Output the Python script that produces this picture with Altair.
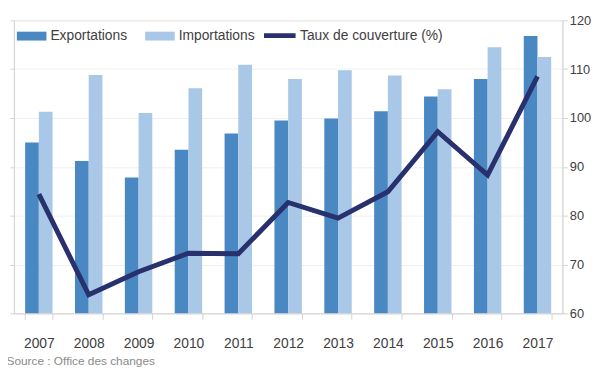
import altair as alt
import pandas as pd

annees = ["2007", "2008", "2009", "2010", "2011", "2012", "2013", "2014", "2015", "2016", "2017"]
exportations = [35.0, 31.2, 27.8, 33.5, 36.8, 39.5, 39.9, 41.4, 44.4, 48.0, 56.8]
importations = [41.3, 48.8, 41.0, 46.1, 50.9, 48.0, 49.8, 48.7, 45.9, 54.5, 52.5]
taux_couverture = [84.4, 63.8, 68.5, 72.3, 72.2, 82.7, 79.5, 84.9, 97.2, 88.3, 108.5]

series_barres = ["Exportations", "Importations"]
couleurs_barres = ["#4a88c4", "#a9c8e7"]
serie_ligne = "Taux de couverture (%)"
couleur_ligne = "#28306d"
left_ticks = [0, 10, 20, 30, 40, 50, 60]
right_ticks = [60, 70, 80, 90, 100, 110, 120]

bars_df = pd.DataFrame(
    {
        "annee": annees * 2,
        "serie": ["Exportations"] * len(annees) + ["Importations"] * len(annees),
        "valeur": exportations + importations,
    }
)
line_df = pd.DataFrame({"annee": annees, "taux": taux_couverture})

FONT = "Liberation Sans, Arial, sans-serif"
TXT = "#404040"
AX = "#d4d4d4"

x_enc = alt.X(
    "annee:N",
    sort=annees,
    scale=alt.Scale(paddingInner=0.45, paddingOuter=0.225),
    axis=alt.Axis(
        title=None,
        labelAngle=0,
        labelFont=FONT,
        labelFontSize=14,
        labelColor=TXT,
        labelPadding=18,
        tickBand="extent",
        tickSize=6,
        tickColor=AX,
        domainColor=AX,
        grid=False,
    ),
)

bars = alt.Chart(bars_df).mark_bar().encode(
    x=x_enc,
    xOffset=alt.XOffset(
        "serie:N",
        sort=series_barres,
        scale=alt.Scale(paddingInner=0, paddingOuter=0),
    ),
    y=alt.Y(
        "valeur:Q",
        scale=alt.Scale(domain=[0, 60], nice=False),
        axis=alt.Axis(
            title=None,
            orient="left",
            values=left_ticks,
            labels=False,
            tickSize=4,
            tickColor=AX,
            domainColor=AX,
            grid=True,
            gridColor="#f0f0f0",
        ),
    ),
    fill=alt.Fill(
        "serie:N",
        scale=alt.Scale(domain=series_barres, range=couleurs_barres),
        legend=alt.Legend(
            title=None,
            orient="none",
            legendX=3,
            legendY=1,
            direction="horizontal",
            columnPadding=18,
            labelOffset=4,
            labelFont=FONT,
            labelFontSize=14,
            labelColor=TXT,
            labelLimit=300,
            symbolSize=900,
            symbolType="M-1,-0.3H1V0.3H-1Z",
            symbolStrokeWidth=0,
            padding=0,
        ),
    ),
)

line = alt.Chart(line_df).mark_line(strokeWidth=5).encode(
    x=x_enc,
    y=alt.Y(
        "taux:Q",
        scale=alt.Scale(domain=[60, 120], nice=False),
        axis=alt.Axis(
            title=None,
            orient="right",
            values=right_ticks,
            tickSize=5,
            tickColor=AX,
            domainColor=AX,
            labelPadding=2,
            labelFont=FONT,
            labelFontSize=13,
            labelColor=TXT,
            grid=False,
        ),
    ),
    stroke=alt.Stroke(
        "serie:N",
        scale=alt.Scale(domain=[serie_ligne], range=[couleur_ligne]),
        legend=alt.Legend(
            title=None,
            orient="none",
            legendX=251,
            legendY=-3,
            direction="horizontal",
            labelOffset=2,
            labelFont=FONT,
            labelFontSize=14,
            labelColor=TXT,
            labelLimit=300,
            symbolSize=1024,
            symbolType="stroke",
            symbolStrokeWidth=5,
            padding=0,
        ),
    ),
).transform_calculate(serie=f"'{serie_ligne}'")

chart = (
    alt.layer(bars, line)
    .resolve_scale(y="independent")
    .properties(
        width=556,
        height=297,
        autosize=alt.AutoSizeParams(type="none"),
        padding={"left": 6, "top": 10, "right": 30, "bottom": 57},
        title=alt.TitleParams(
            "Source : Office des changes",
            orient="bottom",
            anchor="start",
            dx=-3,
            offset=5,
            font=FONT,
            fontSize=12,
            fontWeight="normal",
            color="#8a8a8a",
        ),
    )
    .configure_view(stroke=None)
    .configure(background="white")
)

chart.save("out.html", embed_options={"renderer": "svg", "actions": False})
